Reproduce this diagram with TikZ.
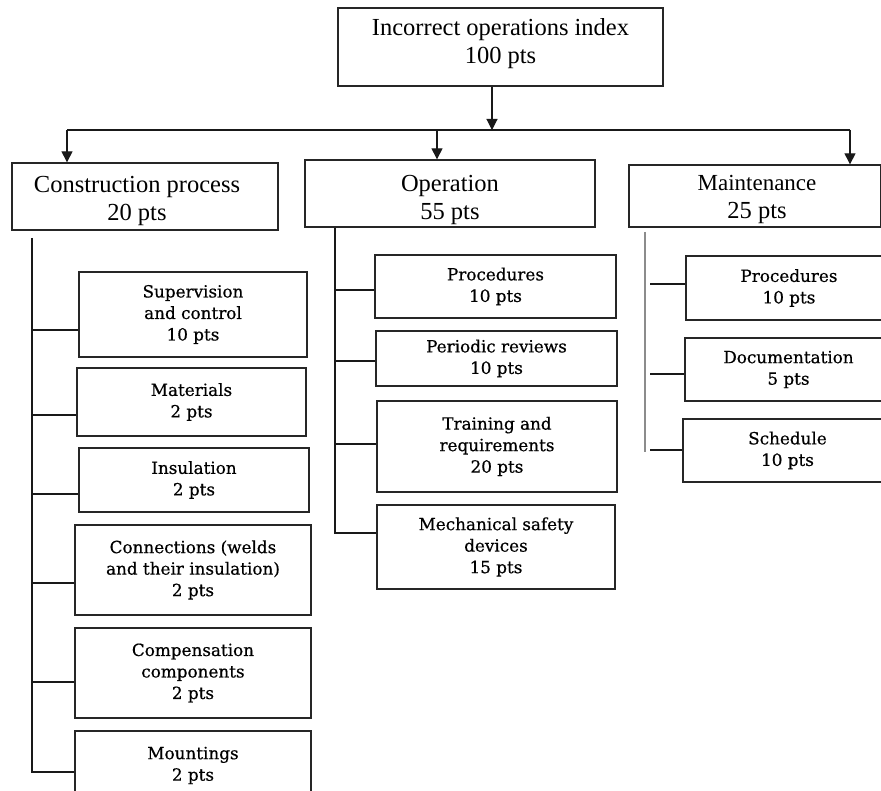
\documentclass[tikz,border=0pt]{standalone}
\usepackage{fontspec}
\setmainfont{Liberation Serif}
\newfontfamily\leaffont[FakeBold=0.5]{DejaVu Serif}
\usetikzlibrary{arrows.meta}
\begin{document}
\begin{tikzpicture}[x=1pt,y=-1pt,
  frame/.style={draw=black!85,line width=1.3pt,inner sep=0pt},
  headtext/.style={inner sep=0pt,align=center,font=\fontsize{24.5}{28}\selectfont},
  leafbox/.style={frame,align=center,
    font=\leaffont\fontsize{16.8}{21.5}\selectfont},
  link/.style={line width=1.1pt,black!90},
  arr/.style={link,-{Triangle[length=11pt,width=11pt]}}]
\clip (0,0) rectangle (881,791);
\fill[white] (0,0) rectangle (881,791);

% root and the three main groups
\node[frame,minimum width=325pt,minimum height=78pt] (root) at (500.5,47) {};
\node[headtext] (rootT) at ([yshift=3pt]root.center) {Incorrect operations index\\100 pts};
\node[frame,minimum width=266pt,minimum height=67pt] (cons) at (145,196.5) {};
\node[headtext] (consT) at ([xshift=-8pt,yshift=-4pt]cons.center) {Construction process\\20 pts};
\node[frame,minimum width=290pt,minimum height=67pt] (oper) at (450,193.5) {};
\node[headtext] (operT) at ([yshift=-6pt]oper.center) {Operation\\55 pts};
\node[frame,minimum width=252pt,minimum height=62pt] (maint) at (755,196) {};
\node[headtext] (maintT) at ([xshift=2pt,yshift=-3.5pt]maint.center) {\fontsize{23}{26}\selectfont Maintenance\\25 pts};

% distribution bus
\coordinate (bus) at (492,130);
\coordinate (busL) at (67,130);
\coordinate (busM) at (437,130);
\coordinate (busR) at (850,130);
\draw[arr] (root.south -| bus) -- (bus);
\draw[link] (busL) -- (busR);
\draw[arr] (busL) -- (busL |- cons.north);
\draw[arr] (busM) -- (busM |- oper.north);
\draw[arr] (busR) -- (busR |- maint.north);

% construction process items
\node[leafbox,minimum width=228pt,minimum height=85pt] (sup) at (193,314.5) {Supervision\\and control\\10 pts};
\node[leafbox,minimum width=229pt,minimum height=68pt] (mat) at (191.5,402) {Materials\\2 pts};
\node[leafbox,minimum width=230pt,minimum height=64pt] (ins) at (194,480) {Insulation\\2 pts};
\node[leafbox,minimum width=236pt,minimum height=90pt] (conn) at (193,570) {Connections (welds\\and their insulation)\\2 pts};
\node[leafbox,minimum width=236pt,minimum height=90pt] (comp) at (193,673) {Compensation\\components\\2 pts};
\node[leafbox,minimum width=236pt,minimum height=69pt] (mnt) at (193,765.5) {Mountings\\2 pts};

\coordinate (cs) at (32,238);
\draw[link] (cs) -- (32,773);
\draw[link] (cs |- 0,330) -- (sup.west |- 0,330);
\draw[link] (cs |- 0,415) -- (mat.west |- 0,415);
\draw[link] (cs |- 0,494) -- (ins.west |- 0,494);
\draw[link] (cs |- 0,583) -- (conn.west |- 0,583);
\draw[link] (cs |- 0,682) -- (comp.west |- 0,682);
\draw[link] (cs |- 0,772) -- (mnt.west |- 0,772);

% operation items
\node[leafbox,minimum width=241pt,minimum height=63pt] (op1) at (495.5,286.5) {Procedures\\10 pts};
\node[leafbox,minimum width=241pt,minimum height=55pt] (op2) at (496.5,358.5) {Periodic reviews\\10 pts};
\node[leafbox,minimum width=240pt,minimum height=91pt] (op3) at (497,446.5) {Training and\\requirements\\20 pts};
\node[leafbox,minimum width=238pt,minimum height=84pt] (op4) at (496,547) {Mechanical safety\\devices\\15 pts};

\coordinate (os) at (335,0);
\draw[link] (os |- oper.south) -- (335,534);
\draw[link] (os |- 0,290) -- (op1.west |- 0,290);
\draw[link] (os |- 0,361) -- (op2.west |- 0,361);
\draw[link] (os |- 0,444) -- (op3.west |- 0,444);
\draw[link] (os |- 0,533) -- (op4.west |- 0,533);

% maintenance items
\node[leafbox,minimum width=206pt,minimum height=64pt] (m1) at (789,288) {Procedures\\10 pts};
\node[leafbox,minimum width=207pt,minimum height=63pt] (m2) at (788.5,369.5) {Documentation\\5 pts};
\node[leafbox,minimum width=209pt,minimum height=63pt] (m3) at (787.5,450.5) {Schedule\\10 pts};

\coordinate (ms) at (645,232);
\draw[line width=1.3pt,black!45] (ms) -- (645,452);
\draw[link] (650,284) -- (m1.west |- 0,284);
\draw[link] (650,374) -- (m2.west |- 0,374);
\draw[link] (650,450) -- (m3.west |- 0,450);
\end{tikzpicture}
\end{document}
